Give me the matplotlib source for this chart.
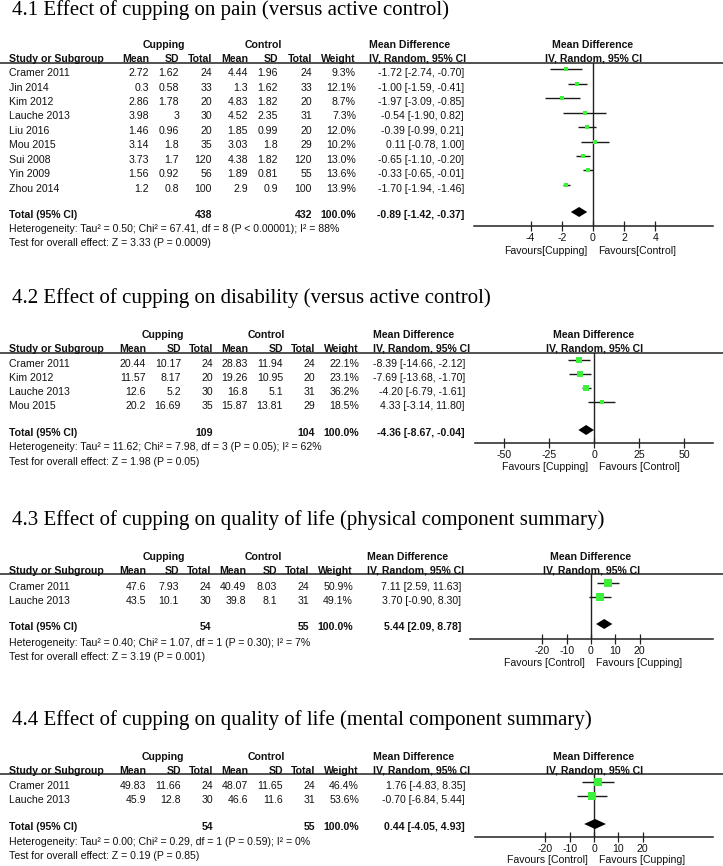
import numpy as np
import matplotlib
matplotlib.use("Agg")
import matplotlib.pyplot as plt

W, H = 723, 866

# ---------------- data ----------------
titles = ["4.1 Effect of cupping on pain (versus active control)",
          "4.2 Effect of cupping on disability (versus active control)",
          "4.3 Effect of cupping on quality of life (physical component summary)",
          "4.4 Effect of cupping on quality of life (mental component summary)"]

# 4.1 pain
studies1 = ["Cramer 2011", "Jin 2014", "Kim 2012", "Lauche 2013", "Liu 2016",
            "Mou 2015", "Sui 2008", "Yin 2009", "Zhou 2014"]
cup_mean1 = [2.72, 0.3, 2.86, 3.98, 1.46, 3.14, 3.73, 1.56, 1.2]
cup_sd1 = [1.62, 0.58, 1.78, 3, 0.96, 1.8, 1.7, 0.92, 0.8]
cup_n1 = [24, 33, 20, 30, 20, 35, 120, 56, 100]
ctl_mean1 = [4.44, 1.3, 4.83, 4.52, 1.85, 3.03, 4.38, 1.89, 2.9]
ctl_sd1 = [1.96, 1.62, 1.82, 2.35, 0.99, 1.8, 1.82, 0.81, 0.9]
ctl_n1 = [24, 33, 20, 31, 20, 29, 120, 55, 100]
weight1 = [9.3, 12.1, 8.7, 7.3, 12.0, 10.2, 13.0, 13.6, 13.9]
md1 = [-1.72, -1.00, -1.97, -0.54, -0.39, 0.11, -0.65, -0.33, -1.70]
lo1 = [-2.74, -1.59, -3.09, -1.90, -0.99, -0.78, -1.10, -0.65, -1.94]
hi1 = [-0.70, -0.41, -0.85, 0.82, 0.21, 1.00, -0.20, -0.01, -1.46]
total1 = [438, 432]
pooled1 = [-0.89, -1.42, -0.37]
het1 = "Heterogeneity: Tau² = 0.50; Chi² = 67.41, df = 8 (P < 0.00001); I² = 88%"
test1 = "Test for overall effect: Z = 3.33 (P = 0.0009)"
ticks1 = [-4, -2, 0, 2, 4]
fav1 = ["Favours[Cupping]", "Favours[Control]"]

# 4.2 disability
studies2 = ["Cramer 2011", "Kim 2012", "Lauche 2013", "Mou 2015"]
cup_mean2 = [20.44, 11.57, 12.6, 20.2]
cup_sd2 = [10.17, 8.17, 5.2, 16.69]
cup_n2 = [24, 20, 30, 35]
ctl_mean2 = [28.83, 19.26, 16.8, 15.87]
ctl_sd2 = [11.94, 10.95, 5.1, 13.81]
ctl_n2 = [24, 20, 31, 29]
weight2 = [22.1, 23.1, 36.2, 18.5]
md2 = [-8.39, -7.69, -4.20, 4.33]
lo2 = [-14.66, -13.68, -6.79, -3.14]
hi2 = [-2.12, -1.70, -1.61, 11.80]
total2 = [109, 104]
pooled2 = [-4.36, -8.67, -0.04]
het2 = "Heterogeneity: Tau² = 11.62; Chi² = 7.98, df = 3 (P = 0.05); I² = 62%"
test2 = "Test for overall effect: Z = 1.98 (P = 0.05)"
ticks2 = [-50, -25, 0, 25, 50]
fav2 = ["Favours [Cupping]", "Favours [Control]"]

# 4.3 physical component summary
studies3 = ["Cramer 2011", "Lauche 2013"]
cup_mean3 = [47.6, 43.5]
cup_sd3 = [7.93, 10.1]
cup_n3 = [24, 30]
ctl_mean3 = [40.49, 39.8]
ctl_sd3 = [8.03, 8.1]
ctl_n3 = [24, 31]
weight3 = [50.9, 49.1]
md3 = [7.11, 3.70]
lo3 = [2.59, -0.90]
hi3 = [11.63, 8.30]
total3 = [54, 55]
pooled3 = [5.44, 2.09, 8.78]
het3 = "Heterogeneity: Tau² = 0.40; Chi² = 1.07, df = 1 (P = 0.30); I² = 7%"
test3 = "Test for overall effect: Z = 3.19 (P = 0.001)"
ticks3 = [-20, -10, 0, 10, 20]
fav3 = ["Favours [Control]", "Favours [Cupping]"]

# 4.4 mental component summary
studies4 = ["Cramer 2011", "Lauche 2013"]
cup_mean4 = [49.83, 45.9]
cup_sd4 = [11.66, 12.8]
cup_n4 = [24, 30]
ctl_mean4 = [48.07, 46.6]
ctl_sd4 = [11.65, 11.6]
ctl_n4 = [24, 31]
weight4 = [46.4, 53.6]
md4 = [1.76, -0.70]
lo4 = [-4.83, -6.84]
hi4 = [8.35, 5.44]
total4 = [54, 55]
pooled4 = [0.44, -4.05, 4.93]
het4 = "Heterogeneity: Tau² = 0.00; Chi² = 0.29, df = 1 (P = 0.59); I² = 0%"
test4 = "Test for overall effect: Z = 0.19 (P = 0.85)"
ticks4 = [-20, -10, 0, 10, 20]
fav4 = ["Favours [Control]", "Favours [Cupping]"]

# ---------------- layout (pixels, y down) ----------------
# cols: right edges of Mean, SD, Total, Mean, SD, Total, Weight, MD text; then MD header left
lay1 = dict(title=15, h1=44, h2=58, line=63, row0=72.3, step=14.45, total=214, het=228, test=242,
            axis=226, fav=250, ax_x=(474, 713), zero=593, ppu=15.6,
            cols=[149, 179, 212, 248, 278, 312, 356, 464, 369], grp=(164, 263))
lay2 = dict(title=303, h1=334, h2=348, line=353, row0=363, step=14, total=432, het=446, test=461,
            axis=443, fav=466, ax_x=(475, 713), zero=594, ppu=1.8,
            cols=[146, 181, 213, 248, 283, 315, 359, 465, 373], grp=(163, 266))
lay3 = dict(title=525, h1=556, h2=570, line=574, row0=586, step=14, total=626, het=642, test=656,
            axis=639, fav=662, ax_x=(470, 713), zero=591, ppu=2.43,
            cols=[146, 179, 211, 246, 277, 309, 353, 461, 367], grp=(164, 263))
lay4 = dict(title=725, h1=756, h2=770, line=774, row0=785, step=14, total=826, het=841, test=855,
            axis=837, fav=859, ax_x=(475, 713), zero=594, ppu=2.43,
            cols=[146, 181, 213, 248, 283, 315, 359, 465, 373], grp=(163, 266))

SANS = "Liberation Sans"
SERIF = "Liberation Serif"
FS = 7.6
GREEN = "#3cf03c"
INK = "#111111"

fig = plt.figure(figsize=(W / 100, H / 100), dpi=100)
bg = fig.add_axes([0, 0, 1, 1])
bg.set_xlim(0, W)
bg.set_ylim(H, 0)
bg.axis("off")


def txt(x, y, s, ha="left", bold=False, size=FS):
    # y is the visual centre of the text line
    bg.text(x, y + 3.8, s, ha=ha, va="baseline", fontsize=size, family=SANS,
            fontweight="bold" if bold else "normal", color=INK)


def draw_panel(L, title, studies, cm, csd, cn, tm, tsd, tn, wt, md, lo, hi,
               tot, pooled, het, test, ticks, fav):
    c = L["cols"]
    bg.text(12, L["title"], title, family=SERIF, fontsize=15.0, va="baseline", color="black")

    # header
    txt(L["grp"][0], L["h1"], "Cupping", ha="center", bold=True)
    txt(L["grp"][1], L["h1"], "Control", ha="center", bold=True)
    txt(c[8], L["h1"], "Mean Difference", bold=True)
    txt(L["zero"], L["h1"], "Mean Difference", ha="center", bold=True)
    txt(9, L["h2"], "Study or Subgroup", bold=True)
    for x, s in zip(c[:7], ["Mean", "SD", "Total", "Mean", "SD", "Total", "Weight"]):
        txt(x, L["h2"], s, ha="right", bold=True)
    txt(c[8], L["h2"], "IV, Random, 95% CI", bold=True)
    txt(L["zero"] + 1, L["h2"], "IV, Random, 95% CI", ha="center", bold=True)
    bg.plot([0, W], [L["line"], L["line"]], color="#222222", lw=1.1)

    # study rows
    for i, s in enumerate(studies):
        y = L["row0"] + i * L["step"]
        txt(9, y, s)
        vals = [f"{cm[i]:g}", f"{csd[i]:g}", str(cn[i]), f"{tm[i]:g}", f"{tsd[i]:g}",
                str(tn[i]), f"{wt[i]:.1f}%", f"{md[i]:.2f} [{lo[i]:.2f}, {hi[i]:.2f}]"]
        for x, v in zip(c[:8], vals):
            txt(x, y, v, ha="right")

    # total + footnotes
    txt(9, L["total"], "Total (95% CI)", bold=True)
    txt(c[2], L["total"], str(tot[0]), ha="right", bold=True)
    txt(c[5], L["total"], str(tot[1]), ha="right", bold=True)
    txt(c[6], L["total"], "100.0%", ha="right", bold=True)
    txt(c[7], L["total"], f"{pooled[0]:.2f} [{pooled[1]:.2f}, {pooled[2]:.2f}]", ha="right", bold=True)
    txt(9, L["het"], het)
    txt(9, L["test"], test)

    # forest plot
    x0, x1 = L["ax_x"]
    top, bot = L["line"], L["axis"]
    ax = fig.add_axes([x0 / W, 1 - bot / H, (x1 - x0) / W, (bot - top) / H])
    ax.patch.set_alpha(0)
    step = L["step"]
    mark0 = L["row0"] - 3  # squares sit a bit above the text centre
    ax.set_ylim((bot - mark0) / step, (top - mark0) / step)
    ax.set_xlim((x0 - L["zero"]) / L["ppu"], (x1 - L["zero"]) / L["ppu"])

    rows = np.arange(len(studies))
    ax.hlines(rows, lo, hi, color="#1a1a1a", lw=1.0, zorder=2)
    for i in rows:
        ax.plot(md[i], i, marker="s", ms=0.8 * np.sqrt(wt[i]), color=GREEN, mew=0, zorder=3)

    tr = (L["total"] - 2 - mark0) / step
    h = 5 / step
    m, a, b = pooled
    ax.fill([a, m, b, m], [tr, tr - h, tr, tr + h], color="black", lw=0, zorder=3)
    ax.axvline(0, color="#222222", lw=1.0, zorder=1)

    for s in ["left", "right", "top"]:
        ax.spines[s].set_visible(False)
    ax.spines["bottom"].set_linewidth(1.1)
    ax.spines["bottom"].set_color("#222222")
    ax.set_yticks([])
    ax.set_xticks(ticks)
    ax.set_xticklabels([f"{t:g}" for t in ticks], family=SANS, fontsize=FS, color=INK)
    ax.tick_params(axis="x", direction="inout", length=7, width=0.9, color="#222222", pad=1.3)

    dy = -(L["fav"] - bot + 3.8) * 0.72
    ax.annotate(fav[0], xy=(0, 0), xycoords=ax.get_xaxis_transform(), xytext=(-4.3, dy),
                textcoords="offset points", ha="right", va="baseline", family=SANS,
                fontsize=FS, color=INK)
    ax.annotate(fav[1], xy=(0, 0), xycoords=ax.get_xaxis_transform(), xytext=(3.6, dy),
                textcoords="offset points", ha="left", va="baseline", family=SANS,
                fontsize=FS, color=INK)


draw_panel(lay1, titles[0], studies1, cup_mean1, cup_sd1, cup_n1, ctl_mean1, ctl_sd1, ctl_n1,
           weight1, md1, lo1, hi1, total1, pooled1, het1, test1, ticks1, fav1)
draw_panel(lay2, titles[1], studies2, cup_mean2, cup_sd2, cup_n2, ctl_mean2, ctl_sd2, ctl_n2,
           weight2, md2, lo2, hi2, total2, pooled2, het2, test2, ticks2, fav2)
draw_panel(lay3, titles[2], studies3, cup_mean3, cup_sd3, cup_n3, ctl_mean3, ctl_sd3, ctl_n3,
           weight3, md3, lo3, hi3, total3, pooled3, het3, test3, ticks3, fav3)
draw_panel(lay4, titles[3], studies4, cup_mean4, cup_sd4, cup_n4, ctl_mean4, ctl_sd4, ctl_n4,
           weight4, md4, lo4, hi4, total4, pooled4, het4, test4, ticks4, fav4)

fig.savefig("out.png", dpi=100)
